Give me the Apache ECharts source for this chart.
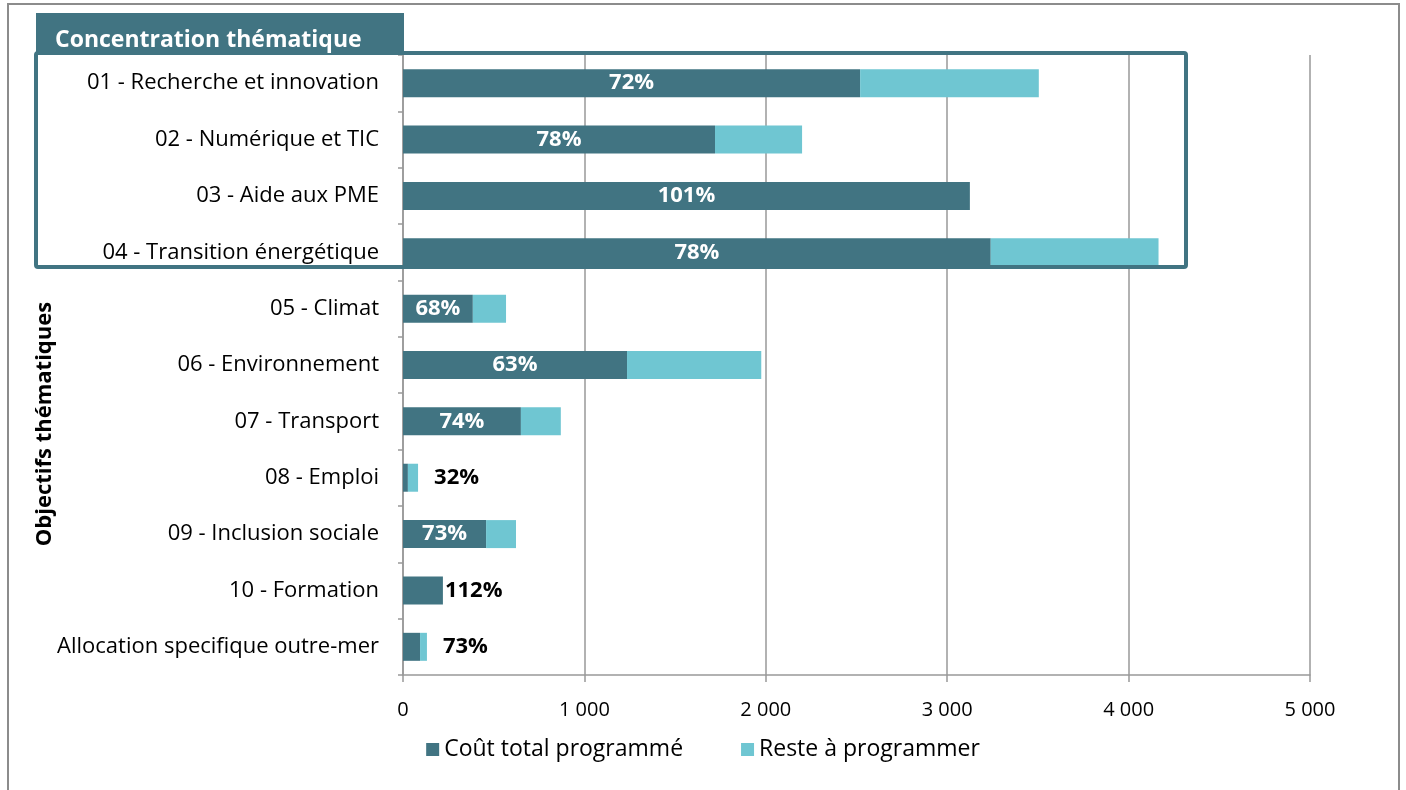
<!DOCTYPE html>
<html><head><meta charset="utf-8">
<script src="https://cdn.jsdelivr.net/npm/echarts@6/dist/echarts.min.js"></script>
<style>html,body{margin:0;padding:0;background:#fff}#c{width:1406px;height:790px}</style>
</head><body><div id="c"></div>
<script>
const categories = ['01 - Recherche et innovation','02 - Numérique et TIC','03 - Aide aux PME','04 - Transition énergétique','05 - Climat','06 - Environnement','07 - Transport','08 - Emploi','09 - Inclusion sociale','10 - Formation','Allocation specifique outre-mer'];
const coutTotal = [2520, 1720, 3125, 3240, 385, 1235, 650, 27, 458, 220, 94];
const resteAProgrammer = [985, 480, 0, 925, 183, 740, 220, 56, 165, 0, 38];
const tauxLabels = ['72%','78%','101%','78%','68%','63%','74%','32%','73%','112%','73%'];
const xTicks = [0, 1000, 2000, 3000, 4000, 5000];

const DARK = '#417482', LIGHT = '#6FC6D2';
const FONT = '"Open Sans"';
const SMALL = 300;

const darkData = coutTotal.map((v, i) => {
  const d = { value: v };
  if (v >= SMALL) {
    d.label = { show: true, position: 'inside', color: '#fff', fontWeight: 'bold', fontSize: 22, fontFamily: FONT, formatter: tauxLabels[i] };
  } else if (resteAProgrammer[i] === 0) {
    d.label = { show: true, position: 'right', distance: 2, color: '#000', fontWeight: 'bold', fontSize: 22, fontFamily: FONT, formatter: tauxLabels[i] };
  }
  return d;
});
const lightData = resteAProgrammer.map((v, i) => {
  const d = { value: v };
  if (coutTotal[i] < SMALL && v > 0) {
    d.label = { show: true, position: 'right', distance: 16, color: '#000', fontWeight: 'bold', fontSize: 22, fontFamily: FONT, formatter: tauxLabels[i] };
  }
  return d;
});

const chart = echarts.init(document.getElementById('c'), null, { renderer: 'canvas' });
chart.setOption({
  animation: false,
  textStyle: { fontFamily: FONT },
  grid: { left: 403, right: 96, top: 55, bottom: 115, containLabel: false },
  legend: {
    bottom: 24, left: 'center', itemWidth: 13, itemHeight: 13, itemGap: 58, icon: 'rect',
    textStyle: { fontSize: 23, color: '#000', fontFamily: FONT },
    data: ['Coût total programmé', 'Reste à programmer']
  },
  xAxis: {
    type: 'value', min: xTicks[0], max: xTicks[xTicks.length - 1], interval: 1000,
    axisLine: { show: true, lineStyle: { color: '#999', width: 1.5 } },
    axisTick: { show: true, length: 7, lineStyle: { color: '#999', width: 1.5 } },
    splitLine: { show: true, lineStyle: { color: '#999', width: 1.5 } },
    axisLabel: { fontSize: 20, color: '#000', margin: 25, fontFamily: FONT,
      formatter: v => String(v).replace(/\B(?=(\d{3})+(?!\d))/g, ' ') }
  },
  yAxis: {
    type: 'category', inverse: true, data: categories,
    axisLine: { show: true, lineStyle: { color: '#999', width: 1.5 } },
    axisTick: { show: true, length: 5, lineStyle: { color: '#999', width: 1.5 } },
    axisLabel: { fontSize: 22, color: '#000', margin: 24, fontFamily: FONT }
  },
  series: [
    { name: 'Coût total programmé', type: 'bar', stack: 't', barWidth: 28, itemStyle: { color: DARK }, data: darkData },
    { name: 'Reste à programmer', type: 'bar', stack: 't', barWidth: 28, itemStyle: { color: LIGHT }, data: lightData }
  ],
  graphic: [
    { type: 'rect', shape: { x: 8, y: 4, width: 1391, height: 820 }, style: { fill: 'none', stroke: '#8c8c8c', lineWidth: 2 }, silent: true, z: 100 },
    { type: 'rect', shape: { x: 36, y: 13, width: 368, height: 40 }, style: { fill: DARK }, z: 100 },
    { type: 'text', x: 55, y: 40, style: { text: 'Concentration thématique', fill: '#fff', font: 'bold 23px ' + FONT, textVerticalAlign: 'middle' }, z: 101 },
    { type: 'rect', shape: { x: 36, y: 53, width: 1150, height: 214, r: 2 }, style: { fill: 'none', stroke: DARK, lineWidth: 4 }, z: 100 },
    { type: 'text', x: 45, y: 424, rotation: Math.PI / 2, style: { text: 'Objectifs thématiques', fill: '#000', font: 'bold 22px ' + FONT, textAlign: 'center', textVerticalAlign: 'middle' }, z: 100 }
  ]
});
</script></body></html>
